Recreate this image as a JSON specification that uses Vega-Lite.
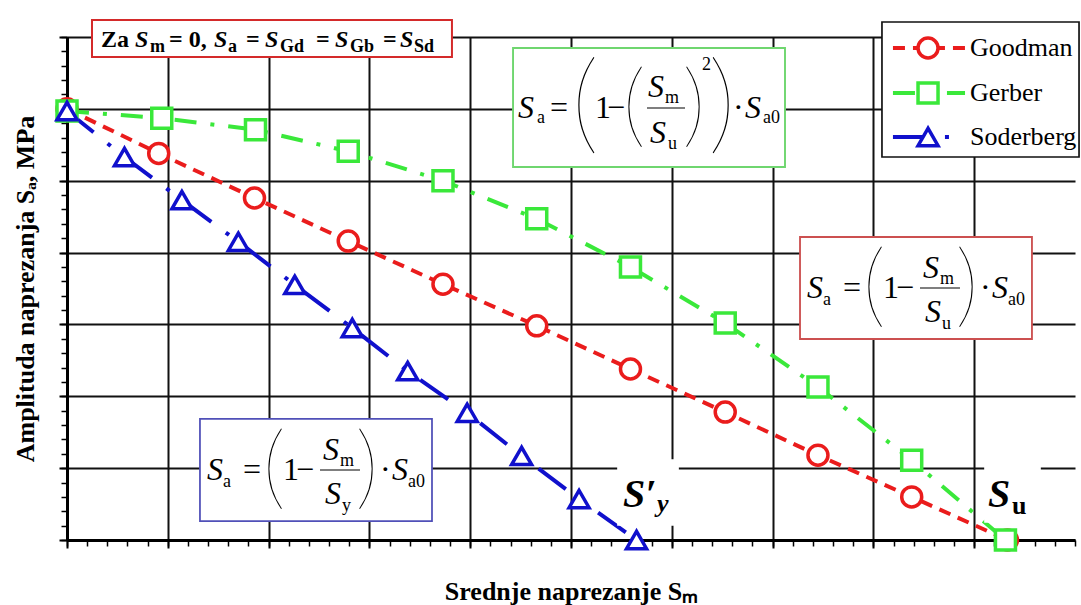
{
  "$schema": "https://vega.github.io/schema/vega-lite/v6.json",
  "width": 1008,
  "height": 503,
  "autosize": "none",
  "padding": {"left": 67, "top": 37, "right": 6, "bottom": 65},
  "background": "white",
  "config": {"view": {"stroke": null}, "font": "Liberation Serif"},
  "datasets": {
    "series": [
      {"s": "Goodman", "sm": 0, "sa": 6.0},
      {"s": "Goodman", "sm": 0.91, "sa": 5.38},
      {"s": "Goodman", "sm": 1.86, "sa": 4.76},
      {"s": "Goodman", "sm": 2.79, "sa": 4.16},
      {"s": "Goodman", "sm": 3.73, "sa": 3.56},
      {"s": "Goodman", "sm": 4.66, "sa": 2.98},
      {"s": "Goodman", "sm": 5.59, "sa": 2.38},
      {"s": "Goodman", "sm": 6.53, "sa": 1.78},
      {"s": "Goodman", "sm": 7.45, "sa": 1.18},
      {"s": "Goodman", "sm": 8.38, "sa": 0.6},
      {"s": "Goodman", "sm": 9.33, "sa": 0},
      {"s": "Gerber", "sm": 0, "sa": 5.97},
      {"s": "Gerber", "sm": 0.94, "sa": 5.87},
      {"s": "Gerber", "sm": 1.87, "sa": 5.71},
      {"s": "Gerber", "sm": 2.79, "sa": 5.41},
      {"s": "Gerber", "sm": 3.73, "sa": 5.0},
      {"s": "Gerber", "sm": 4.66, "sa": 4.47},
      {"s": "Gerber", "sm": 5.59, "sa": 3.8},
      {"s": "Gerber", "sm": 6.53, "sa": 3.02},
      {"s": "Gerber", "sm": 7.45, "sa": 2.13},
      {"s": "Gerber", "sm": 8.38, "sa": 1.11},
      {"s": "Gerber", "sm": 9.31, "sa": 0},
      {"s": "Soderberg", "sm": 0, "sa": 5.97},
      {"s": "Soderberg", "sm": 0.57, "sa": 5.33},
      {"s": "Soderberg", "sm": 1.14, "sa": 4.73},
      {"s": "Soderberg", "sm": 1.7, "sa": 4.15},
      {"s": "Soderberg", "sm": 2.26, "sa": 3.55},
      {"s": "Soderberg", "sm": 2.83, "sa": 2.95},
      {"s": "Soderberg", "sm": 3.38, "sa": 2.35},
      {"s": "Soderberg", "sm": 3.97, "sa": 1.77},
      {"s": "Soderberg", "sm": 4.51, "sa": 1.17},
      {"s": "Soderberg", "sm": 5.08, "sa": 0.57},
      {"s": "Soderberg", "sm": 5.65, "sa": 0}
    ],
    "boxes": [
      {"c": "topred", "x": 0.248, "x2": 3.819, "y": 7.237, "y2": 6.722},
      {"c": "green", "x": 4.425, "x2": 7.123, "y": 6.847, "y2": 5.191},
      {"c": "red", "x": 7.272, "x2": 9.573, "y": 4.217, "y2": 2.797},
      {"c": "blue", "x": 1.319, "x2": 3.621, "y": 1.684, "y2": 0.264},
      {"c": "legend", "x": 8.085, "x2": 10.04, "y": 7.209, "y2": 5.33},
      {"c": "bg", "x": 5.466, "x2": 6.062, "y": 1.113, "y2": 0.209},
      {"c": "bg", "x": 9.107, "x2": 9.653, "y": 1.113, "y2": 0.25}
    ],
    "bars": [
      {"x": 5.754, "x2": 6.131, "y": 6.012},
      {"x": 8.462, "x2": 8.859, "y": 3.507},
      {"x": 2.51, "x2": 2.907, "y": 0.974}
    ],
    "leg": [
      {"s": "Goodman", "x": 8.194, "x2": 8.909, "xm": 8.542, "y": 6.847},
      {"s": "Gerber", "x": 8.194, "x2": 8.909, "xm": 8.542, "y": 6.221},
      {"s": "Soderberg", "x": 8.194, "x2": 8.909, "xm": 8.542, "y": 5.608}
    ],
    "txt": [
      {"k": "b", "t": "Za", "x": 0.337, "y": 6.861},
      {"k": "bi", "t": "S", "x": 0.675, "y": 6.861},
      {"k": "bs", "t": "m", "x": 0.823, "y": 6.791},
      {"k": "b", "t": "= 0,", "x": 1.012, "y": 6.861},
      {"k": "bi", "t": "S", "x": 1.458, "y": 6.861},
      {"k": "bs", "t": "a", "x": 1.597, "y": 6.791},
      {"k": "b", "t": "=", "x": 1.776, "y": 6.861},
      {"k": "bi", "t": "S", "x": 1.964, "y": 6.861},
      {"k": "bs", "t": "Gd", "x": 2.113, "y": 6.791},
      {"k": "b", "t": "=", "x": 2.47, "y": 6.861},
      {"k": "bi", "t": "S", "x": 2.659, "y": 6.861},
      {"k": "bs", "t": "Gb", "x": 2.808, "y": 6.791},
      {"k": "b", "t": "=", "x": 3.135, "y": 6.861},
      {"k": "bi", "t": "S", "x": 3.304, "y": 6.861},
      {"k": "bs", "t": "Sd", "x": 3.443, "y": 6.791},

      {"k": "i", "t": "S", "x": 4.474, "y": 5.873},
      {"k": "s", "t": "a", "x": 4.663, "y": 5.803},
      {"k": "r", "t": "=", "x": 4.792, "y": 5.873},
      {"k": "pL", "t": "(", "x": 5.139, "y": 6.026},
      {"k": "r", "t": "1", "x": 5.238, "y": 5.873},
      {"k": "r", "t": "−", "x": 5.357, "y": 5.873},
      {"k": "pM", "t": "(", "x": 5.625, "y": 6.012},
      {"k": "i", "t": "S", "x": 5.764, "y": 6.165},
      {"k": "s", "t": "m", "x": 5.933, "y": 6.082},
      {"k": "i", "t": "S", "x": 5.784, "y": 5.525},
      {"k": "s", "t": "u", "x": 5.962, "y": 5.441},
      {"k": "pM", "t": ")", "x": 6.22, "y": 6.012},
      {"k": "s", "t": "2", "x": 6.3, "y": 6.541},
      {"k": "pL", "t": ")", "x": 6.498, "y": 6.026},
      {"k": "r", "t": "·", "x": 6.607, "y": 5.873},
      {"k": "i", "t": "S", "x": 6.726, "y": 5.873},
      {"k": "s", "t": "a0", "x": 6.905, "y": 5.803},

      {"k": "i", "t": "S", "x": 7.341, "y": 3.368},
      {"k": "s", "t": "a", "x": 7.5, "y": 3.27},
      {"k": "r", "t": "=", "x": 7.698, "y": 3.368},
      {"k": "pM", "t": "(", "x": 8.006, "y": 3.507},
      {"k": "r", "t": "1", "x": 8.095, "y": 3.368},
      {"k": "r", "t": "−", "x": 8.224, "y": 3.368},
      {"k": "i", "t": "S", "x": 8.492, "y": 3.646},
      {"k": "s", "t": "m", "x": 8.661, "y": 3.563},
      {"k": "i", "t": "S", "x": 8.512, "y": 3.034},
      {"k": "s", "t": "u", "x": 8.681, "y": 2.936},
      {"k": "pM", "t": ")", "x": 8.929, "y": 3.507},
      {"k": "r", "t": "·", "x": 9.058, "y": 3.368},
      {"k": "i", "t": "S", "x": 9.177, "y": 3.368},
      {"k": "s", "t": "a0", "x": 9.335, "y": 3.27},

      {"k": "i", "t": "S", "x": 1.389, "y": 0.835},
      {"k": "s", "t": "a", "x": 1.548, "y": 0.737},
      {"k": "r", "t": "=", "x": 1.746, "y": 0.835},
      {"k": "pM", "t": "(", "x": 2.054, "y": 0.974},
      {"k": "r", "t": "1", "x": 2.143, "y": 0.835},
      {"k": "r", "t": "−", "x": 2.272, "y": 0.835},
      {"k": "i", "t": "S", "x": 2.54, "y": 1.113},
      {"k": "s", "t": "m", "x": 2.709, "y": 1.03},
      {"k": "i", "t": "S", "x": 2.56, "y": 0.501},
      {"k": "s", "t": "y", "x": 2.729, "y": 0.403},
      {"k": "pM", "t": ")", "x": 2.976, "y": 0.974},
      {"k": "r", "t": "·", "x": 3.106, "y": 0.835},
      {"k": "i", "t": "S", "x": 3.225, "y": 0.835},
      {"k": "s", "t": "a0", "x": 3.383, "y": 0.737},

      {"k": "L", "t": "S′", "x": 5.516, "y": 0.459},
      {"k": "Lsi", "t": "y", "x": 5.853, "y": 0.39},
      {"k": "L", "t": "S", "x": 9.137, "y": 0.459},
      {"k": "Ls", "t": "u", "x": 9.375, "y": 0.362},

      {"k": "lg", "t": "Goodman", "x": 8.958, "y": 6.847},
      {"k": "lg", "t": "Gerber", "x": 8.958, "y": 6.221},
      {"k": "lg", "t": "Soderberg", "x": 8.958, "y": 5.608}
    ]
  },
  "resolve": {
    "axis": {"x": "independent", "y": "independent"},
    "scale": {"stroke": "independent", "strokeWidth": "independent"}
  },
  "layer": [
    {
      "data": {"name": "series"},
      "mark": {"type": "line", "strokeWidth": 4},
      "encoding": {
        "x": {"field": "sm", "type": "quantitative", "scale": {"domain": [0, 10], "nice": false, "zero": false},
          "axis": {"orient": "bottom", "values": [0, 1, 2, 3, 4, 5, 6, 7, 8, 9], "labels": false, "grid": true, "gridColor": "#111111", "gridWidth": 2, "gridOpacity": 1,
            "ticks": true, "tickSize": 8, "tickWidth": 2, "tickColor": "#000000", "domain": true, "domainColor": "#000000", "domainWidth": 3,
            "title": "Srednje naprezanje Sₘ", "titleFont": "Liberation Serif", "titleFontSize": 26, "titleFontWeight": "bold", "titleColor": "#000000", "titleBaseline": "alphabetic", "titlePadding": 50}},
        "y": {"field": "sa", "type": "quantitative", "scale": {"domain": [0, 7], "nice": false, "zero": false},
          "axis": {"orient": "left", "values": [0, 1, 2, 3, 4, 5, 6, 7], "labels": false, "grid": true, "gridColor": "#111111", "gridWidth": 2, "gridOpacity": 1,
            "ticks": true, "tickSize": 8, "tickWidth": 2, "tickColor": "#000000", "domain": true, "domainColor": "#000000", "domainWidth": 3,
            "title": "Amplituda naprezanja Sₐ, MPa", "titleFont": "Liberation Serif", "titleFontSize": 26, "titleFontWeight": "bold", "titleColor": "#000000", "titlePadding": 20}},
        "color": {"field": "s", "type": "nominal", "scale": {"domain": ["Goodman", "Gerber", "Soderberg"], "range": ["#ea1c1c", "#3ae83a", "#1010cc"]}, "legend": null},
        "strokeDash": {"field": "s", "type": "nominal", "scale": {"domain": ["Goodman", "Gerber", "Soderberg"], "range": [[12, 8], [22, 14, 4, 14], [34, 18, 4, 18]]}, "legend": null}
      }
    },
    {
      "data": {"name": "series"},
      "mark": {"type": "point", "filled": true, "fill": "white", "strokeWidth": 3.5, "size": 400, "opacity": 1},
      "encoding": {
        "x": {"field": "sm", "type": "quantitative", "scale": {"domain": [0, 10], "nice": false, "zero": false},
          "axis": {"orient": "bottom", "values": [0,0.2,0.4,0.6,0.8,1,1.2,1.4,1.6,1.8,2,2.2,2.4,2.6,2.8,3,3.2,3.4,3.6,3.8,4,4.2,4.4,4.6,4.8,5,5.2,5.4,5.6,5.8,6,6.2,6.4,6.6,6.8,7,7.2,7.4,7.6,7.8,8,8.2,8.4,8.6,8.8,9,9.2,9.4,9.6,9.8,10],
            "labels": false, "grid": false, "domain": false, "ticks": true, "tickSize": 6, "tickWidth": 1.5, "tickColor": "#000000", "title": null}},
        "y": {"field": "sa", "type": "quantitative", "scale": {"domain": [0, 7], "nice": false, "zero": false},
          "axis": {"orient": "left", "values": [0,0.2,0.4,0.6,0.8,1,1.2,1.4,1.6,1.8,2,2.2,2.4,2.6,2.8,3,3.2,3.4,3.6,3.8,4,4.2,4.4,4.6,4.8,5,5.2,5.4,5.6,5.8,6,6.2,6.4,6.6,6.8,7],
            "labels": false, "grid": false, "domain": false, "ticks": true, "tickSize": 6, "tickWidth": 1.5, "tickColor": "#000000", "title": null}},
        "stroke": {"field": "s", "type": "nominal", "scale": {"domain": ["Goodman", "Gerber", "Soderberg"], "range": ["#ea1c1c", "#3ae83a", "#1010cc"]}, "legend": null},
        "shape": {"field": "s", "type": "nominal", "scale": {"domain": ["Goodman", "Gerber", "Soderberg"], "range": ["circle", "square", "triangle-up"]}, "legend": null}
      }
    },
    {
      "data": {"name": "boxes"},
      "mark": {"type": "rect", "fill": "white", "fillOpacity": 1},
      "encoding": {
        "x": {"field": "x", "type": "quantitative", "axis": null},
        "x2": {"field": "x2"},
        "y": {"field": "y", "type": "quantitative", "axis": null},
        "y2": {"field": "y2"},
        "stroke": {"field": "c", "type": "nominal", "scale": {"domain": ["topred", "green", "red", "blue", "legend", "bg"], "range": ["#d42a2a", "#6fd66f", "#cc5050", "#5050b8", "#111111", "#ffffff"]}, "legend": null},
        "strokeWidth": {"field": "c", "type": "nominal", "scale": {"domain": ["topred", "green", "red", "blue", "legend", "bg"], "range": [2, 1.6, 1.6, 1.6, 2, 0]}, "legend": null}
      }
    },
    {
      "data": {"name": "bars"},
      "mark": {"type": "rule", "color": "#000000", "strokeWidth": 1.2},
      "encoding": {
        "x": {"field": "x", "type": "quantitative", "axis": null},
        "x2": {"field": "x2"},
        "y": {"field": "y", "type": "quantitative", "axis": null}
      }
    },
    {
      "data": {"name": "leg"},
      "mark": {"type": "rule", "strokeWidth": 4},
      "encoding": {
        "x": {"field": "x", "type": "quantitative", "axis": null},
        "x2": {"field": "x2"},
        "y": {"field": "y", "type": "quantitative", "axis": null},
        "color": {"field": "s", "type": "nominal", "scale": {"domain": ["Goodman", "Gerber", "Soderberg"], "range": ["#ea1c1c", "#3ae83a", "#1010cc"]}, "legend": null},
        "strokeDash": {"field": "s", "type": "nominal", "scale": {"domain": ["Goodman", "Gerber", "Soderberg"], "range": [[12, 8], [22, 14, 4, 14], [34, 18, 4, 18]]}, "legend": null}
      }
    },
    {
      "data": {"name": "leg"},
      "mark": {"type": "point", "filled": true, "fill": "white", "strokeWidth": 3.5, "size": 400, "opacity": 1},
      "encoding": {
        "x": {"field": "xm", "type": "quantitative", "axis": null},
        "y": {"field": "y", "type": "quantitative", "axis": null},
        "stroke": {"field": "s", "type": "nominal", "scale": {"domain": ["Goodman", "Gerber", "Soderberg"], "range": ["#ea1c1c", "#3ae83a", "#1010cc"]}, "legend": null},
        "shape": {"field": "s", "type": "nominal", "scale": {"domain": ["Goodman", "Gerber", "Soderberg"], "range": ["circle", "square", "triangle-up"]}, "legend": null}
      }
    },
    {
      "data": {"name": "txt"},
      "transform": [{"filter": "datum.k === 'b'"}],
      "mark": {"type": "text", "font": "Liberation Serif", "fontWeight": "bold", "fontSize": 24, "align": "left", "baseline": "alphabetic", "color": "#000000"},
      "encoding": {"x": {"field": "x", "type": "quantitative", "axis": null}, "y": {"field": "y", "type": "quantitative", "axis": null}, "text": {"field": "t"}}
    },
    {
      "data": {"name": "txt"},
      "transform": [{"filter": "datum.k === 'bi'"}],
      "mark": {"type": "text", "font": "Liberation Serif", "fontWeight": "bold", "fontStyle": "italic", "fontSize": 24, "align": "left", "baseline": "alphabetic", "color": "#000000"},
      "encoding": {"x": {"field": "x", "type": "quantitative", "axis": null}, "y": {"field": "y", "type": "quantitative", "axis": null}, "text": {"field": "t"}}
    },
    {
      "data": {"name": "txt"},
      "transform": [{"filter": "datum.k === 'bs'"}],
      "mark": {"type": "text", "font": "Liberation Serif", "fontWeight": "bold", "fontSize": 18, "align": "left", "baseline": "alphabetic", "color": "#000000"},
      "encoding": {"x": {"field": "x", "type": "quantitative", "axis": null}, "y": {"field": "y", "type": "quantitative", "axis": null}, "text": {"field": "t"}}
    },
    {
      "data": {"name": "txt"},
      "transform": [{"filter": "datum.k === 'i'"}],
      "mark": {"type": "text", "font": "Liberation Serif", "fontStyle": "italic", "fontSize": 32, "align": "left", "baseline": "alphabetic", "color": "#000000"},
      "encoding": {"x": {"field": "x", "type": "quantitative", "axis": null}, "y": {"field": "y", "type": "quantitative", "axis": null}, "text": {"field": "t"}}
    },
    {
      "data": {"name": "txt"},
      "transform": [{"filter": "datum.k === 'r'"}],
      "mark": {"type": "text", "font": "Liberation Serif", "fontSize": 32, "align": "left", "baseline": "alphabetic", "color": "#000000"},
      "encoding": {"x": {"field": "x", "type": "quantitative", "axis": null}, "y": {"field": "y", "type": "quantitative", "axis": null}, "text": {"field": "t"}}
    },
    {
      "data": {"name": "txt"},
      "transform": [{"filter": "datum.k === 's'"}],
      "mark": {"type": "text", "font": "Liberation Serif", "fontSize": 18, "align": "left", "baseline": "alphabetic", "color": "#000000"},
      "encoding": {"x": {"field": "x", "type": "quantitative", "axis": null}, "y": {"field": "y", "type": "quantitative", "axis": null}, "text": {"field": "t"}}
    },
    {
      "data": {"name": "txt"},
      "transform": [{"filter": "datum.k === 'pL'"}],
      "mark": {"type": "text", "font": "Lato", "fontWeight": 100, "fontSize": 110, "align": "center", "baseline": "middle", "color": "#000000"},
      "encoding": {"x": {"field": "x", "type": "quantitative", "axis": null}, "y": {"field": "y", "type": "quantitative", "axis": null}, "text": {"field": "t"}}
    },
    {
      "data": {"name": "txt"},
      "transform": [{"filter": "datum.k === 'pM'"}],
      "mark": {"type": "text", "font": "Lato", "fontWeight": 100, "fontSize": 92, "align": "center", "baseline": "middle", "color": "#000000"},
      "encoding": {"x": {"field": "x", "type": "quantitative", "axis": null}, "y": {"field": "y", "type": "quantitative", "axis": null}, "text": {"field": "t"}}
    },
    {
      "data": {"name": "txt"},
      "transform": [{"filter": "datum.k === 'lg'"}],
      "mark": {"type": "text", "font": "Liberation Serif", "fontSize": 26, "align": "left", "baseline": "middle", "color": "#000000"},
      "encoding": {"x": {"field": "x", "type": "quantitative", "axis": null}, "y": {"field": "y", "type": "quantitative", "axis": null}, "text": {"field": "t"}}
    },
    {
      "data": {"name": "txt"},
      "transform": [{"filter": "datum.k === 'L'"}],
      "mark": {"type": "text", "font": "Liberation Serif", "fontWeight": "bold", "fontStyle": "italic", "fontSize": 40, "align": "left", "baseline": "alphabetic", "color": "#000000"},
      "encoding": {"x": {"field": "x", "type": "quantitative", "axis": null}, "y": {"field": "y", "type": "quantitative", "axis": null}, "text": {"field": "t"}}
    },
    {
      "data": {"name": "txt"},
      "transform": [{"filter": "datum.k === 'Ls'"}],
      "mark": {"type": "text", "font": "Liberation Serif", "fontWeight": "bold", "fontSize": 26, "align": "left", "baseline": "alphabetic", "color": "#000000"},
      "encoding": {"x": {"field": "x", "type": "quantitative", "axis": null}, "y": {"field": "y", "type": "quantitative", "axis": null}, "text": {"field": "t"}}
    },
    {
      "data": {"name": "txt"},
      "transform": [{"filter": "datum.k === 'Lsi'"}],
      "mark": {"type": "text", "font": "Liberation Serif", "fontWeight": "bold", "fontStyle": "italic", "fontSize": 26, "align": "left", "baseline": "alphabetic", "color": "#000000"},
      "encoding": {"x": {"field": "x", "type": "quantitative", "axis": null}, "y": {"field": "y", "type": "quantitative", "axis": null}, "text": {"field": "t"}}
    }
  ]
}
